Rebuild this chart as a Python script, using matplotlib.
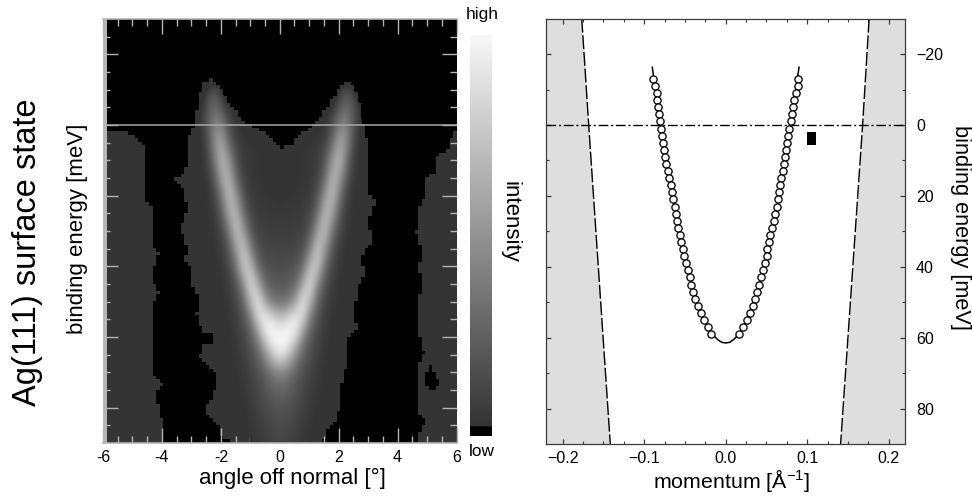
# Ag(111) surface state: ARPES intensity map and extracted dispersion

import numpy as np
import matplotlib.pyplot as plt
from matplotlib.colors import LinearSegmentedColormap, Normalize
from matplotlib.patches import Polygon, Rectangle
from matplotlib.path import Path
from matplotlib.ticker import FixedLocator, NullFormatter

W, H = 972, 497

# intensity map, gray levels (right half, mirrored for the left)
map_angle = [0, .25, .5, .75, 1, 1.25, 1.5, 1.75, 2, 2.25, 2.5, 2.75, 3]
map_energy = list(range(-15, 95, 5))
map_levels = [
    [0, 0, 0, 0, 0, 0, 0, 0, 0, 0, 0, 0, 0],
    [0, 0, 0, 0, 0, 0, 0, 0, 60, 85, 60, 0, 0],
    [0, 0, 0, 0, 0, 0, 45, 55, 85, 105, 80, 52, 0],
    [0, 0, 0, 0, 45, 52, 56, 78, 130, 135, 75, 52, 45],
    [40, 45, 52, 54, 55, 56, 65, 105, 170, 135, 68, 50, 45],
    [45, 48, 52, 54, 55, 60, 85, 150, 190, 110, 60, 50, 45],
    [48, 50, 52, 54, 56, 65, 105, 185, 160, 82, 55, 50, 45],
    [52, 53, 54, 55, 60, 80, 150, 195, 115, 66, 52, 48, 45],
    [56, 57, 58, 60, 68, 110, 190, 165, 88, 58, 52, 48, 45],
    [62, 62, 63, 66, 85, 155, 200, 115, 70, 55, 52, 48, 45],
    [68, 68, 70, 78, 125, 205, 155, 85, 60, 52, 50, 48, 45],
    [76, 78, 82, 105, 185, 210, 110, 70, 55, 52, 48, 45, 45],
    [88, 92, 100, 165, 230, 140, 82, 62, 52, 50, 48, 45, 45],
    [108, 115, 155, 240, 185, 100, 70, 56, 52, 48, 45, 45, 45],
    [205, 225, 255, 215, 120, 80, 62, 52, 50, 48, 45, 45, 45],
    [255, 255, 225, 135, 90, 70, 58, 52, 48, 45, 45, 45, 45],
    [235, 205, 140, 98, 78, 64, 54, 52, 48, 45, 45, 45, 45],
    [130, 120, 98, 80, 68, 58, 53, 50, 48, 45, 45, 45, 45],
    [100, 95, 84, 72, 62, 55, 52, 48, 45, 45, 45, 45, 45],
    [85, 82, 74, 66, 58, 53, 50, 48, 45, 45, 45, 45, 45],
    [75, 72, 67, 60, 54, 51, 48, 45, 45, 45, 45, 45, 45],
    [68, 66, 62, 55, 52, 48, 45, 45, 45, 45, 45, 45, 45],
]

# outlines of the flat dark gray areas of the map (angle, energy)
left_area_x = [-6, -5.69, -5.24, -5.01, -4.67, -4.53, -4.56, -4.56, -4.30, -4.33, -4.11, -4.28, -4.28,
               -4.07, -4.28, -4.26, -4.28, -3.96, -4.28, -4.11, -3.96, -3.96, -6]
left_area_y = [2.9, 2, 2, 3.2, 5.3, 8.1, 14.7, 21.8, 24.2, 33.6, 36.8, 40, 44.8,
               47.4, 50, 60, 70.3, 73.6, 76, 80.2, 85, 90, 90]
mid_area_x = [-2.33, -2.07, -1.90, -1.73, -1.45, -1.20, -0.66, -0.32, 0.02, 0.36, 0.70, 1.27, 1.49, 1.89,
              2.0, 2.26, 2.51, 2.68, 2.72, 2.80, 2.91, 2.97, 3.02, 3.02, 2.97, 3.25, 3.08, 3.02, 3.14, 2.91,
              2.68, 2.91, 2.68, 2.63, 2.46, 2.68, 2.29, 2.34, 2.17, 2.06, 2.0, 1.89, 1.55, 1.49,
              -1.56, -2.01, -2.01, -2.58, -2.24, -2.15, -2.52, -2.72, -2.64, -2.30, -2.30, -2.64, -2.72,
              -2.83, -2.75, -2.98, -2.98, -3.26, -3.09, -3.40, -3.20, -3.15, -3.32, -3.66, -3.20, -3.15,
              -3.09, -2.86, -2.83, -2.72, -2.58]
mid_area_y = [-13.1, -11.2, -8.9, -6.0, -3.2, -0.4, 1.7, 3.9, 6.7, 6.2, 2.9, -0.8, -3.7, -8.4,
              -10.6, -12.2, -10.6, -7.7, -4.2, -0.4, 2.0, 5.3, 9.1, 14.7, 19.0, 22.3, 25.1, 28.9, 32.6, 35.5,
              38.2, 41.5, 44.8, 48.6, 53.3, 57.6, 60.4, 65.6, 70.3, 75, 80.2, 83.5, 86.8, 90,
              90, 87.8, 85.4, 80.7, 76.9, 70.3, 67.9, 65.6, 62.3, 61.8, 59, 59, 55.7,
              53.3, 48.6, 45.8, 40.1, 38.2, 35.4, 29.3, 27, 23.2, 17.5, 15.7, 13.8, 8.1,
              3.9, 0.1, -3.2, -8.9, -11.7]
right_area_x = [5.96, 5.85, 5.74, 5.23, 5.23, 5.34, 4.89, 4.89, 4.72, 4.72, 4.61, 4.78, 4.72, 4.78, 4.72,
                4.66, 4.72, 4.89, 4.72, 4.61, 4.72, 4.72, 4.95, 4.66, 4.61, 6, 6]
right_area_y = [2, 3.4, 7.2, 9.1, 10.9, 12.8, 15.7, 20.4, 23.2, 28.9, 30.3, 35.5, 40.1, 44.8, 49.5,
                54.3, 59.9, 64.6, 67.5, 73.1, 76, 81.6, 83.5, 88.2, 90, 90, 2]
hole_x = [5.06, 5.40, 5.34, 5.0, 4.95]
hole_y = [67.5, 72.7, 74.1, 76, 71.3]

# dispersion: fitted points
point_energy = list(range(-13, 61, 2))
point_k_left = [-.0892, -.0863, -.0847, -.0838, -.0826, -.0818, -.0806, -.0793, -.0785, -.0769, -.0753, -.0740,
                -.0728, -.0708, -.0695, -.0675, -.0654, -.0642, -.0626, -.0613, -.0597, -.0581, -.0560, -.0544,
                -.0528, -.0507, -.0487, -.0466, -.0438, -.0421, -.0397, -.0372, -.0339, -.0303, -.0266, -.0221,
                -.0176]
point_k_right = [.0892, .0883, .0859, .0843, .0826, .0814, .0802, .0781, .0769, .0753, .0736, .0724,
                 .0712, .0699, .0679, .0671, .0654, .0638, .0630, .0609, .0589, .0573, .0548, .0532,
                 .0511, .0503, .0487, .0458, .0438, .0413, .0389, .0364, .0331, .0299, .0262, .0209,
                 .0160]

# parabola through the points
line_k = [-.09, -.08, -.07, -.06, -.05, -.04, -.03, -.02, -.015, -.01, -.005, 0,
          .005, .01, .015, .02, .03, .04, .05, .06, .07, .08, .09]
line_e = [-16.3, 0, 14.4, 26.9, 37.5, 46.1, 52.9, 57.7, 59.3, 60.5, 61.3, 61.5,
          61.3, 60.5, 59.3, 57.7, 52.9, 46.1, 37.5, 26.9, 14.4, 0, -16.3]

# detector window limits (dashed) and the resolution box
limit_e = [-30, 0, 90]
limit_k_left = [-.1765, -.168, -.1415]
limit_k_right = [.176, .168, .141]
box_k = [.0995, .111]
box_e = [2.1, 5.6]

plt.rcParams.update({
    "font.family": "sans-serif",
    "font.sans-serif": ["Liberation Sans", "DejaVu Sans"],
    "font.size": 11.5,
    "mathtext.fontset": "custom",
    "mathtext.rm": "Liberation Sans",
    "mathtext.default": "regular",
})
FLOOR = 52 / 255
GRAY = LinearSegmentedColormap.from_list("bw", [(FLOOR, FLOOR, FLOOR), (1, 1, 1)], N=256)
GRAY.set_under((0, 0, 0, 0))
LIGHT = "#b4b4b4"
DARK = "#3c3c3c"


def px_axes(left, top, right, bottom):
    return fig.add_axes([left / W, 1 - bottom / H, (right - left) / W, (bottom - top) / H])


fig = plt.figure(figsize=(W / 100, H / 100), dpi=100)

# left panel: intensity map
ax = px_axes(103, 19, 456.5, 443)
ax.set_facecolor("black")

# the measured map is blocky, so the flat areas go on a coarse grid
cell_x = np.arange(-6, 6, .12) + .06
cell_y = np.arange(-30, 90, 1.0) + .5
gx, gy = np.meshgrid(cell_x, cell_y)
cells = np.c_[gx.ravel(), gy.ravel()]
flat = np.zeros(len(cells), bool)
for xs, ys in ((left_area_x, left_area_y), (mid_area_x, mid_area_y), (right_area_x, right_area_y)):
    flat |= Path(np.c_[xs, ys]).contains_points(cells)
flat &= ~Path(np.c_[hole_x, hole_y]).contains_points(cells)
flat = np.ma.masked_where(~flat.reshape(gx.shape), np.full(gx.shape, 52.0))
ax.imshow(flat, cmap=GRAY, norm=Normalize(51, 255), extent=[-6, 6, 90, -30],
          interpolation="nearest", aspect="auto", zorder=1)

mid = Polygon(np.c_[mid_area_x, mid_area_y], closed=True, fc="none", ec="none", zorder=1)
ax.add_patch(mid)
half = np.array(map_levels, dtype=float)
full = np.hstack([half[:, :0:-1], half])
im = ax.imshow(full, cmap=GRAY, norm=Normalize(52, 255), extent=[-3.125, 3.125, 92.5, -17.5],
               interpolation="bicubic", interpolation_stage="data", aspect="auto", zorder=2)
im.set_clip_path(mid)
ax.axhline(0, color="#a8a8a8", lw=1.1, zorder=3)
ax.axvspan(-6, -5.85, color=LIGHT, lw=0, zorder=4)
ax.set_xlim(-6, 6)
ax.set_ylim(90, -30)
for s in ("left", "right"):
    ax.spines[s].set_visible(False)
for s in ("top", "bottom"):
    ax.spines[s].set_color(LIGHT)
    ax.spines[s].set_linewidth(1.2)
ax.set_xticks(range(-6, 7, 2))
ax.xaxis.set_minor_locator(FixedLocator(np.arange(-6, 6.1, .5)))
ax.yaxis.set_major_locator(FixedLocator(range(-20, 90, 20)))
ax.yaxis.set_minor_locator(FixedLocator(range(-25, 90, 5)))
ax.yaxis.set_major_formatter(NullFormatter())
ax.tick_params(which="major", direction="in", length=10.5, width=1, color=LIGHT,
               top=True, right=True, pad=5)
ax.tick_params(which="minor", direction="in", length=5, width=1, color=LIGHT, top=True, right=True)
ax.set_xticklabels(["-6", "-4", "-2", "0", "2", "4", "6"])

fig.text(292 / W, 1 - 478 / H, "angle off normal [°]", fontsize=16, ha="center", va="center")
fig.text(78 / W, 1 - 229 / H, "binding energy [meV]", fontsize=16, rotation=90, ha="center", va="center")
fig.text(28 / W, 1 - 252 / H, "Ag(111) surface state", fontsize=23.5, rotation=90, ha="center", va="center")

# gray scale bar
cax = px_axes(470, 35, 491.7, 436)
levels = np.r_[np.linspace(.97, FLOOR, 240), np.full(6, 0.0)].reshape(-1, 1)
cax.imshow(levels, cmap="gray", vmin=0, vmax=1, aspect="auto", interpolation="bilinear")
cax.axis("off")
fig.text(482 / W, 1 - 15 / H, "high", fontsize=12.4, ha="center", va="center")
fig.text(481.5 / W, 1 - 451 / H, "low", fontsize=12.4, ha="center", va="center")
fig.text(510 / W, 1 - 222 / H, "intensity", fontsize=16, rotation=270, ha="center", va="center")

# right panel: dispersion
bx = px_axes(546.3, 18.7, 905, 444)
bx.fill_betweenx(limit_e, -.22, limit_k_left, color="#dedede", lw=0, zorder=1)
bx.fill_betweenx(limit_e, limit_k_right, .22, color="#dedede", lw=0, zorder=1)
bx.plot(limit_k_left, limit_e, color="black", lw=1, dashes=(10, 2), zorder=2)
bx.plot(limit_k_right, limit_e, color="black", lw=1, dashes=(10, 2), zorder=2)
bx.axhline(0, color="black", lw=1, dashes=(7, 2, 1.5, 2), zorder=2)
bx.plot(line_k, line_e, color="black", lw=1.1, zorder=3)
for ks in (point_k_left, point_k_right):
    bx.plot(ks, point_energy, "o", ms=5.2, mfc="white", mec="black", mew=.95, zorder=4)
bx.add_patch(Rectangle((box_k[0], box_e[0]), box_k[1] - box_k[0], box_e[1] - box_e[0],
                       fc="black", ec="none", zorder=4))
bx.set_xlim(-.22, .22)
bx.set_ylim(90, -30)
bx.set_xticks([-.2, -.1, 0, .1, .2])
bx.set_xticklabels(["\u22120.2", "\u22120.1", "0.0", "0.1", "0.2"])
bx.xaxis.set_minor_locator(FixedLocator(np.arange(-.2, .21, .025)))
bx.yaxis.set_major_locator(FixedLocator(range(-20, 90, 20)))
bx.yaxis.set_minor_locator(FixedLocator(range(-20, 90, 10)))
bx.set_yticklabels(["\u221220", "0", "20", "40", "60", "80"])
bx.yaxis.tick_right()
bx.tick_params(which="major", direction="in", length=3.8, width=.9, color=DARK,
               top=True, left=True, right=True, pad=5)
bx.tick_params(which="minor", direction="in", length=2.2, width=.8, color=DARK,
               top=True, left=True, right=True)
bx.tick_params(axis="y", which="both", left=True, right=True, direction="in")
bx.tick_params(axis="y", which="major", pad=8)
for s in bx.spines.values():
    s.set_color(DARK)
    s.set_linewidth(.9)

fig.text(732 / W, 1 - 481 / H, "momentum [Å$^{-1}$]", fontsize=15.4, ha="center", va="center")
fig.text(960 / W, 1 - 227 / H, "binding energy [meV]", fontsize=15.7, rotation=270, ha="center", va="center")

fig.savefig("out.png", dpi=100)
